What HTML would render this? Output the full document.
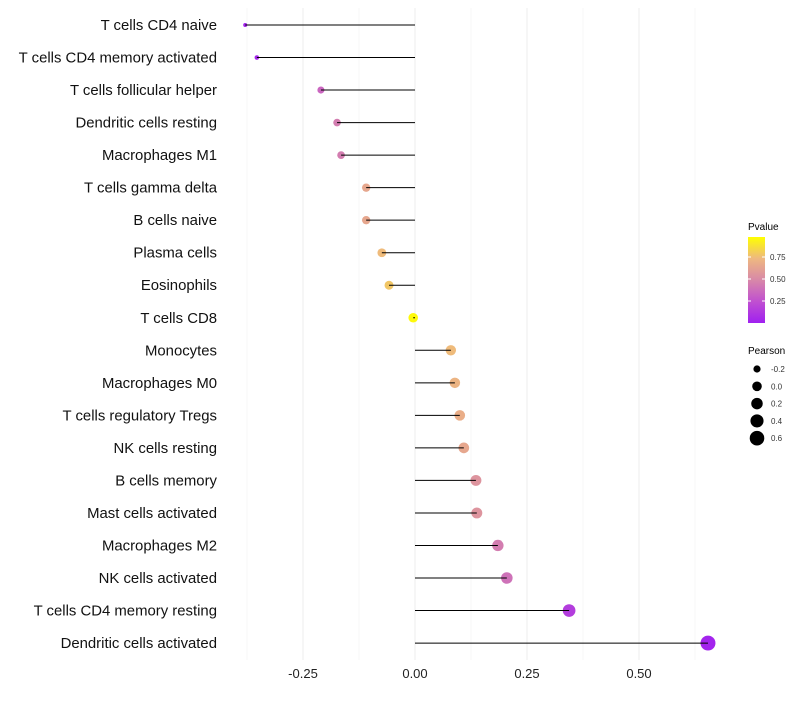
<!DOCTYPE html>
<html><head><meta charset="utf-8"><style>
body{margin:0;background:#fff;font-family:"Liberation Sans",sans-serif}
</style></head><body>
<svg id="chart" width="800" height="700" xmlns="http://www.w3.org/2000/svg">
<defs><linearGradient id="pg" x1="0" y1="1" x2="0" y2="0">
<stop offset="0" stop-color="#a020f0"/><stop offset="0.25" stop-color="#c050d0"/><stop offset="0.5" stop-color="#d888a8"/><stop offset="0.75" stop-color="#eeb880"/><stop offset="1" stop-color="#ffff00"/>
</linearGradient></defs>
<g id="grid"></g>
<g id="marks"></g>
<g id="ylab"></g>
<g id="xlab"></g>
<g>
<text x="748" y="230" font-size="10" fill="#000">Pvalue</text>
<rect x="748" y="237" width="17" height="86" fill="url(#pg)"/>
<line x1="748" y1="257" x2="751" y2="257" stroke="#fff"/><line x1="762" y1="257" x2="765" y2="257" stroke="#fff"/>
<line x1="748" y1="279" x2="751" y2="279" stroke="#fff"/><line x1="762" y1="279" x2="765" y2="279" stroke="#fff"/>
<line x1="748" y1="301" x2="751" y2="301" stroke="#fff"/><line x1="762" y1="301" x2="765" y2="301" stroke="#fff"/>
<text x="770" y="260" font-size="8" fill="#333">0.75</text>
<text x="770" y="282" font-size="8" fill="#333">0.50</text>
<text x="770" y="304" font-size="8" fill="#333">0.25</text>
</g>
<g id="sizeleg">
<text x="748" y="354" font-size="10" fill="#000">Pearson</text>
</g>
</svg>
<script>
const categories=["T cells CD4 naive","T cells CD4 memory activated","T cells follicular helper","Dendritic cells resting","Macrophages M1","T cells gamma delta","B cells naive","Plasma cells","Eosinophils","T cells CD8","Monocytes","Macrophages M0","T cells regulatory  Tregs ","NK cells resting","B cells memory","Mast cells activated","Macrophages M2","NK cells activated","T cells CD4 memory resting","Dendritic cells activated"];
const pearson=[-0.379,-0.353,-0.21,-0.174,-0.165,-0.109,-0.109,-0.074,-0.058,-0.004,0.080,0.089,0.100,0.109,0.136,0.138,0.185,0.205,0.344,0.654];
const pvalue=[0.02,0.04,0.35,0.45,0.45,0.66,0.66,0.76,0.8,0.98,0.76,0.73,0.7,0.66,0.56,0.56,0.45,0.4,0.15,0.02];
const xTicks=[-0.25,0,0.25,0.5];
const xTickLabels=["-0.25","0.00","0.25","0.50"];
const sizeLegend=[-0.2,0.0,0.2,0.4,0.6];
const NS="http://www.w3.org/2000/svg";
const xS=v=>415+v*448;
const yS=i=>25+i*32.53;
const rS=v=>Math.sqrt(Math.max(3,4+(v+0.38)*50));
function lerp(a,b,t){return a+(b-a)*t}
const stops=[[0,[160,32,240]],[0.25,[192,80,208]],[0.5,[216,136,168]],[0.75,[238,184,128]],[1,[255,255,0]]];
function col(p){for(let k=0;k<stops.length-1;k++){const[a,ca]=stops[k],[b,cb]=stops[k+1];if(p<=b){const t=(p-a)/(b-a);return`rgb(${ca.map((c,j)=>Math.round(lerp(c,cb[j],t))).join(",")})`;}}return"rgb(255,255,0)";}
function mk(tag,at,parent){const e=document.createElementNS(NS,tag);for(const k in at)e.setAttribute(k,at[k]);parent.appendChild(e);return e;}
const grid=document.getElementById("grid"),marks=document.getElementById("marks"),ylab=document.getElementById("ylab"),xlab=document.getElementById("xlab");
[-0.375,-0.25,-0.125,0,0.125,0.25,0.375,0.5,0.625].forEach(v=>{const l=mk("line",{x1:xS(v),x2:xS(v),y1:8,y2:660,stroke:Number.isInteger(v/0.25)?"#ededed":"#f7f7f7","stroke-width":1},grid);});
xTicks.forEach((v,i)=>{const t=mk("text",{x:xS(v),y:678,"font-size":13,"text-anchor":"middle",fill:"#222"},xlab);t.textContent=xTickLabels[i];});
categories.forEach((c,i)=>{
const y=yS(i);
const t=mk("text",{x:217,y:y+5,"font-size":14.9,"text-anchor":"end",fill:"#111","xml:space":"preserve"},ylab);t.textContent=c;
const d=mk("circle",{cx:xS(pearson[i]),cy:y,r:rS(pearson[i]),fill:col(pvalue[i])},marks);
const l=mk("line",{x1:xS(0),x2:xS(pearson[i]),y1:y,y2:y,stroke:"#000","stroke-width":1},marks);
});
const sl=document.getElementById("sizeleg");
sizeLegend.forEach((v,i)=>{const y=369+i*17.3;
const c=mk("circle",{cx:757,cy:y,r:rS(v),fill:"#000"},sl);
const t=mk("text",{x:771,y:y+3,"font-size":8,fill:"#333"},sl);t.textContent=v.toFixed(1);});
</script>
</body></html>
